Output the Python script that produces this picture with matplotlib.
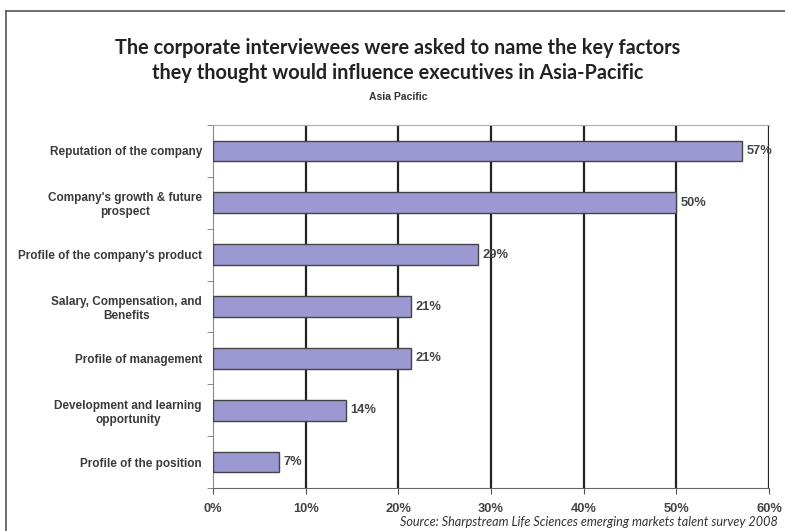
import matplotlib.pyplot as plt
from matplotlib.lines import Line2D

categories = ["Reputation of the company",
              "Company's growth & future\nprospect",
              "Profile of the company's product",
              "Salary, Compensation, and\nBenefits",
              "Profile of management",
              "Development and learning\nopportunity",
              "Profile of the position"]
values = [57.1, 50.0, 28.6, 21.4, 21.4, 14.3, 7.1]
labels = ["57%", "50%", "29%", "21%", "21%", "14%", "7%"]
xticks = [0, 10, 20, 30, 40, 50, 60]

fig = plt.figure(figsize=(7.85, 5.31), dpi=100)
ax = fig.add_axes([213/785, 1-488/531, 556/785, 363/531])

y = list(range(len(categories)))[::-1]
ax.barh(y, values, height=0.4, color='#9c99d2', edgecolor='#444444', linewidth=1, zorder=3)
for yy, v, t in zip(y, values, labels):
    ax.text(v + 0.5, yy, t, va='center', ha='left', fontsize=9.3,
            family='Liberation Sans', fontweight='bold', color='#444444', zorder=4)

ax.set_xlim(0, 60)
ax.set_ylim(-0.5, len(categories) - 0.5)
ax.set_xticks(xticks)
ax.set_xticklabels([f"{t}%" for t in xticks], family='Liberation Sans',
                   fontweight='bold', fontsize=9.3, color='#444444')
ax.set_yticks(y)
ax.set_yticklabels(categories, family='Liberation Sans', fontsize=8.5, fontweight='bold',
                   color='#3a3a3a', multialignment='center')
ax.tick_params(axis='y', length=0, pad=8)
ax.set_yticks([i + 0.5 for i in range(-1, len(categories))], minor=True)
ax.tick_params(axis='y', which='minor', length=4, color='#777777', direction='out')
ax.tick_params(axis='x', length=4, color='#555555', direction='out', pad=7)

for x in xticks[1:]:
    ax.axvline(x, color='#222222', linewidth=1.6, zorder=1)

ax.spines['top'].set_color('#aaaaaa')
ax.spines['right'].set_visible(False)
ax.spines['left'].set_color('#888888')
ax.spines['bottom'].set_color('#666666')

fig.text(398/785, 1-48/531, "The corporate interviewees were asked to name the key factors",
         ha='center', va='center', fontsize=14.3, family='Lato', fontweight='bold', color='#222222')
fig.text(398/785, 1-73/531, "they thought would influence executives in Asia-Pacific",
         ha='center', va='center', fontsize=14.3, family='Lato', fontweight='bold', color='#222222')
fig.text(398/785, 1-97/531, "Asia Pacific", ha='center', va='center', fontsize=7.5,
         family='Liberation Sans', fontweight='bold', color='#333333')
fig.text(778/785, 1-522/531, "Source: Sharpstream Life Sciences emerging markets talent survey 2008",
         ha='right', va='center', fontsize=9.1, family='Lato', style='italic', color='#333333')

fig.add_artist(Line2D([6/785, 6/785], [0, 1-11/531], transform=fig.transFigure, color='#555555', linewidth=1.2))
fig.add_artist(Line2D([6/785, 1], [1-11/531, 1-11/531], transform=fig.transFigure, color='#555555', linewidth=1.2))

fig.savefig('out.png', dpi=100)
